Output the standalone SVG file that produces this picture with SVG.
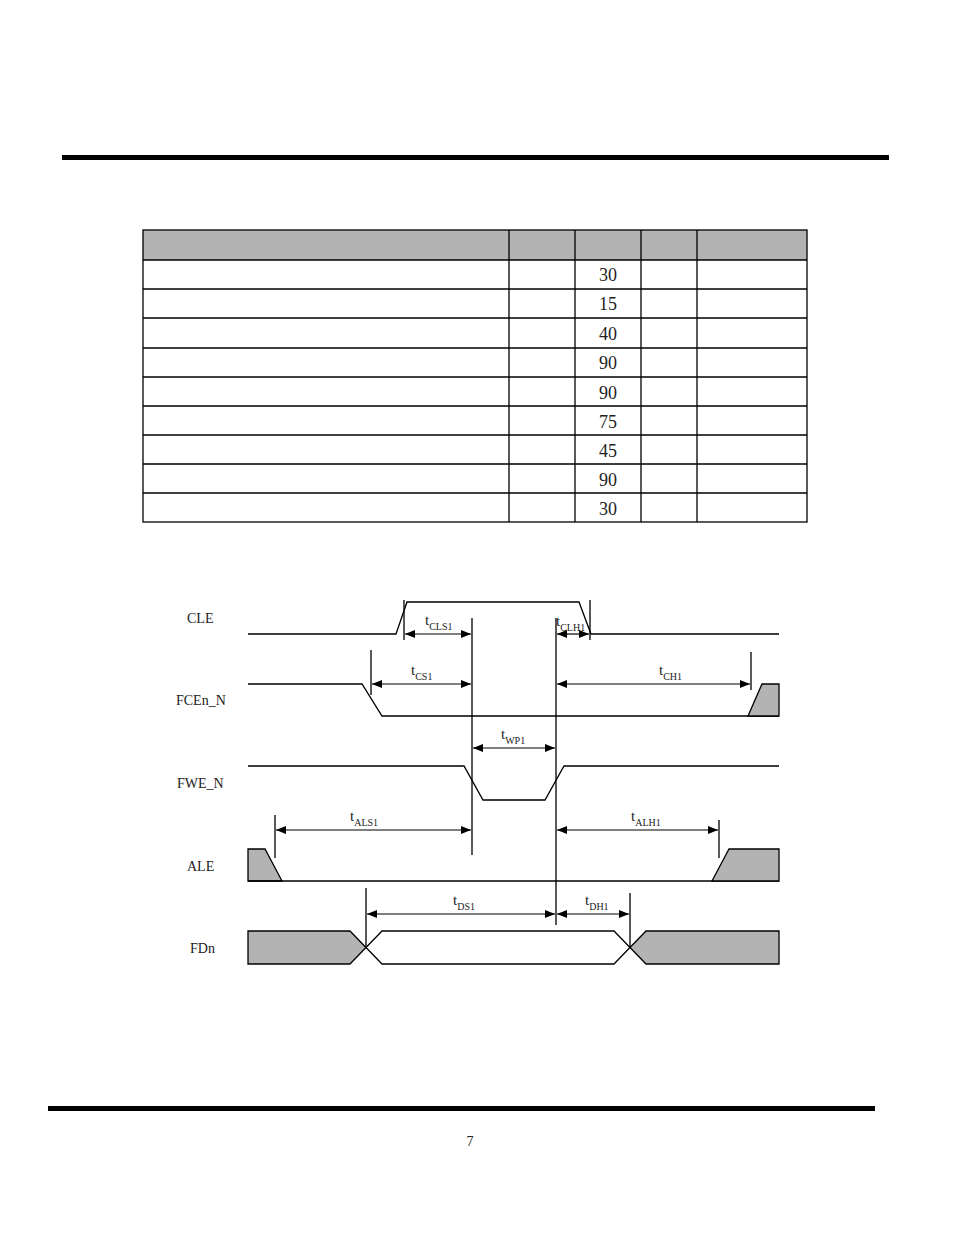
<svg xmlns="http://www.w3.org/2000/svg" width="954" height="1235" viewBox="0 0 954 1235">
<defs>
<marker id="ar" viewBox="0 0 10 8" refX="10" refY="4" markerWidth="10" markerHeight="8" markerUnits="userSpaceOnUse" orient="auto-start-reverse"><path d="M0,0 L10,4 L0,8 Z" fill="#000"/></marker>
</defs>
<style>
.w{fill:none;stroke:#000;stroke-width:1.3}
.g{fill:#b3b3b3;stroke:#000;stroke-width:1.3}
.v{stroke:#000;stroke-width:1.3}
.a{stroke:#000;stroke-width:1.2;marker-start:url(#ar);marker-end:url(#ar)}
.t{font-family:"Liberation Serif",serif;font-size:15px;fill:#222}
.s{font-size:10px}
.l{font-family:"Liberation Serif",serif;font-size:14px;fill:#222}
.n{font-family:"Liberation Serif",serif;font-size:18px;fill:#222;text-anchor:middle}
.tb{fill:none;stroke:#000;stroke-width:1.3}
</style>
<rect width="954" height="1235" fill="#fff"/>
<rect x="62" y="155" width="827" height="5" fill="#000"/>
<rect x="48" y="1106" width="827" height="5" fill="#000"/>
<text x="470" y="1146" class="l" text-anchor="middle">7</text>
<g id="table">
<rect x="143" y="230" width="664" height="30" fill="#b3b3b3"/>
<rect x="143" y="230" width="664" height="292" class="tb"/>
<path class="tb" d="M143,260H807M143,289H807M143,318H807M143,348H807M143,377H807M143,406H807M143,435H807M143,464H807M143,493H807M509,230V522M575,230V522M641,230V522M697,230V522"/>
<text x="608" y="281" class="n">30</text>
<text x="608" y="310" class="n">15</text>
<text x="608" y="340" class="n">40</text>
<text x="608" y="399" class="n" dy="-30">90</text>
<text x="608" y="399" class="n">90</text>
<text x="608" y="428" class="n">75</text>
<text x="608" y="457" class="n">45</text>
<text x="608" y="486" class="n">90</text>
<text x="608" y="515" class="n">30</text>
</g>
<g id="CLE">
<text x="187" y="623" class="l">CLE</text>
<path class="w" d="M248,634H396L407,602H579L591,634H779"/>
</g>
<g id="FCEn_N">
<text x="176" y="705" class="l">FCEn_N</text>
<path class="w" d="M248,684H362L382,716H779"/>
<path class="g" d="M748,716L762,684H779V716Z"/>
</g>
<g id="FWE_N">
<text x="177" y="788" class="l">FWE_N</text>
<path class="w" d="M248,766H464L483,800H545L564,766H779"/>
</g>
<g id="ALE">
<text x="187" y="871" class="l">ALE</text>
<path class="g" d="M248,849H265L282,881H248Z"/>
<path class="w" d="M248,881H779"/>
<path class="g" d="M712,881L729,849H779V881Z"/>
</g>
<g id="FDn">
<text x="190" y="953" class="l">FDn</text>
<path class="g" d="M248,931H350L366,947.5L350,964H248Z"/>
<path class="w" d="M366,947.5L382,931H614L630,947.5L614,964H382Z"/>
<path class="g" d="M630,947.5L646,931H779V964H646Z"/>
</g>
<g id="connectors">
<path class="v" d="M404,600V640M590,600V640M472,618V855M556,618V925M371,650V695M751,652V690M275,815V858M719,820V858M366,888V947M630,893V947"/>
<line class="a" x1="405" y1="634" x2="471" y2="634"/>
<line class="a" x1="557" y1="634" x2="589" y2="634"/>
<line class="a" x1="372" y1="684" x2="471" y2="684"/>
<line class="a" x1="557" y1="684" x2="750" y2="684"/>
<line class="a" x1="473" y1="748" x2="555" y2="748"/>
<line class="a" x1="276" y1="830" x2="471" y2="830"/>
<line class="a" x1="557" y1="830" x2="718" y2="830"/>
<line class="a" x1="367" y1="914" x2="555" y2="914"/>
<line class="a" x1="557" y1="914" x2="629" y2="914"/>
<text x="425" y="625" class="t">t<tspan class="s" dy="5">CLS1</tspan></text>
<text x="556" y="626" class="t">t<tspan class="s" dy="5">CLH1</tspan></text>
<text x="411" y="675" class="t">t<tspan class="s" dy="5">CS1</tspan></text>
<text x="659" y="675" class="t">t<tspan class="s" dy="5">CH1</tspan></text>
<text x="501" y="739" class="t">t<tspan class="s" dy="5">WP1</tspan></text>
<text x="350" y="821" class="t">t<tspan class="s" dy="5">ALS1</tspan></text>
<text x="631" y="821" class="t">t<tspan class="s" dy="5">ALH1</tspan></text>
<text x="453" y="905" class="t">t<tspan class="s" dy="5">DS1</tspan></text>
<text x="585" y="905" class="t">t<tspan class="s" dy="5">DH1</tspan></text>
</g>
</svg>
